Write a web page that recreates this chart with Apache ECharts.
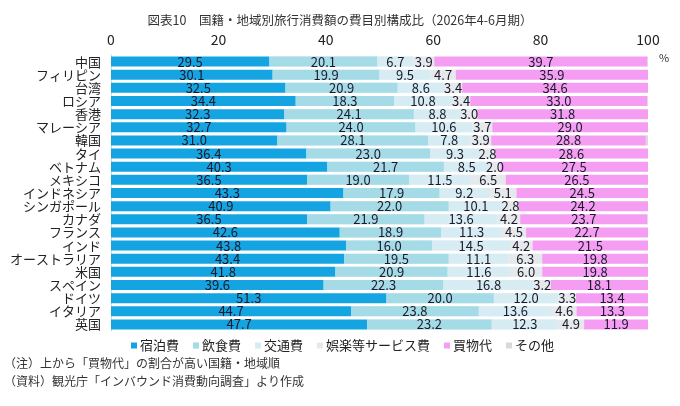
<!DOCTYPE html>
<html>
<head>
<meta charset="utf-8">
<script src="https://cdn.jsdelivr.net/npm/echarts@6/dist/echarts.min.js"></script>
<style>
  html, body { margin: 0; padding: 0; background: #fff; }
  #main { width: 680px; height: 406px; }
</style>
</head>
<body>
<div id="main"></div>
<script>
    // 国籍・地域（上から買物代の割合が高い順）
    var countries = ['中国','フィリピン','台湾','ロシア','香港','マレーシア','韓国','タイ','ベトナム','メキシコ',
        'インドネシア','シンガポール','カナダ','フランス','インド','オーストラリア','米国','スペイン','ドイツ','イタリア','英国'];
    var seriesNames = ['宿泊費','飲食費','交通費','娯楽等サービス費','買物代','その他'];
    var shukuhaku = [29.5,30.1,32.5,34.4,32.3,32.7,31.0,36.4,40.3,36.5,43.3,40.9,36.5,42.6,43.8,43.4,41.8,39.6,51.3,44.7,47.7];
    var inshoku   = [20.1,19.9,20.9,18.3,24.1,24.0,28.1,23.0,21.7,19.0,17.9,22.0,21.9,18.9,16.0,19.5,20.9,22.3,20.0,23.8,23.2];
    var kotsu     = [6.7,9.5,8.6,10.8,8.8,10.6,7.8,9.3,8.5,11.5,9.2,10.1,13.6,11.3,14.5,11.1,11.6,16.8,12.0,13.6,12.3];
    var goraku    = [3.9,4.7,3.4,3.4,3.0,3.7,3.9,2.8,2.0,6.5,5.1,2.8,4.2,4.5,4.2,6.3,6.0,3.2,3.3,4.6,4.9];
    var kaimono   = [39.7,35.9,34.6,33.0,31.8,29.0,28.8,28.6,27.5,26.5,24.5,24.2,23.7,22.7,21.5,19.8,19.8,18.1,13.4,13.3,11.9];
    var sonota    = [0.1,0,0,0.1,0,0,0.4,0,0,0,0,0,0.1,0,0,0,0,0,0,0,0];
    var xTicks = [0,20,40,60,80,100];

    var numFont = "'Liberation Sans Narrow', 'Noto Sans CJK JP', sans-serif";
    var jpFont = "'Noto Sans CJK JP', sans-serif";

    function dotDecal(color, size) {
        return { symbol: 'circle', symbolSize: size, color: color, dashArrayX: [2, 0], dashArrayY: [2, 0], rotation: 0.785 };
    }

    function makeSeries(name, data, color, decal, showLabel) {
        return {
            name: name,
            type: 'bar',
            stack: 'total',
            barWidth: '76%',
            data: data,
            itemStyle: { color: color, decal: decal },
            label: {
                show: showLabel,
                position: 'inside',
                color: '#1a1a2a',
                fontSize: 13,
                fontFamily: numFont,
                formatter: function (p) { return p.value.toFixed(1); }
            },
            emphasis: { disabled: true }
        };
    }

    var chart = echarts.init(document.getElementById('main'));
    chart.setOption({
        animation: false,
        title: {
            text: '図表10　国籍・地域別旅行消費額の費目別構成比（2026年4-6月期）',
            left: 'center',
            top: 9,
            textStyle: { fontSize: 12.5, fontWeight: 'normal', color: '#333', fontFamily: jpFont }
        },
        legend: {
            data: seriesNames,
            top: 334,
            left: 126,
            itemWidth: 6,
            itemHeight: 6,
            itemGap: 14,
            icon: 'rect',
            textStyle: { fontSize: 13, color: '#222', fontFamily: jpFont, padding: [0, 0, 0, -2] }
        },
        graphic: [
            { type: 'text', left: 659, top: 52, style: { text: '%', fontSize: 11, fill: '#333', fontFamily: numFont } },
            { type: 'text', left: 4, top: 357, style: { text: '（注）上から「買物代」の割合が高い国籍・地域順', fontSize: 12, fill: '#333', fontFamily: jpFont } },
            { type: 'text', left: 4, top: 375, style: { text: '（資料）観光庁「インバウンド消費動向調査」より作成', fontSize: 12, fill: '#333', fontFamily: jpFont } }
        ],
        grid: { left: 111, right: 32, top: 55, bottom: 75 },
        xAxis: {
            type: 'value',
            position: 'top',
            min: 0,
            max: 100,
            interval: 20,
            axisLine: { show: false },
            axisTick: { show: false },
            splitLine: { show: false },
            axisLabel: {
                margin: 8,
                fontSize: 14,
                color: '#222',
                fontFamily: numFont,
                formatter: function (v) { return xTicks.indexOf(v) >= 0 ? String(v) : ''; }
            }
        },
        yAxis: {
            type: 'category',
            inverse: true,
            data: countries,
            axisLine: { show: true, lineStyle: { color: '#d8d8d8', width: 1 } },
            axisTick: { show: false },
            axisLabel: { interval: 0, margin: 10, fontSize: 13, color: '#222', fontFamily: jpFont, lineHeight: 13 }
        },
        series: [
            makeSeries('宿泊費', shukuhaku, '#15a4e2', null, true),
            makeSeries('飲食費', inshoku, '#7ecadc', dotDecal('rgba(255,255,255,0.45)', 0.9), true),
            makeSeries('交通費', kotsu, '#bce0ea', dotDecal('rgba(255,255,255,0.6)', 0.9), true),
            makeSeries('娯楽等サービス費', goraku, '#f4f6f7', dotDecal('rgba(190,200,205,0.6)', 0.8), true),
            makeSeries('買物代', kaimono, '#f59df3', null, true),
            makeSeries('その他', sonota, '#d9d9d9', null, false)
        ]
    });
</script>
</body>
</html>
